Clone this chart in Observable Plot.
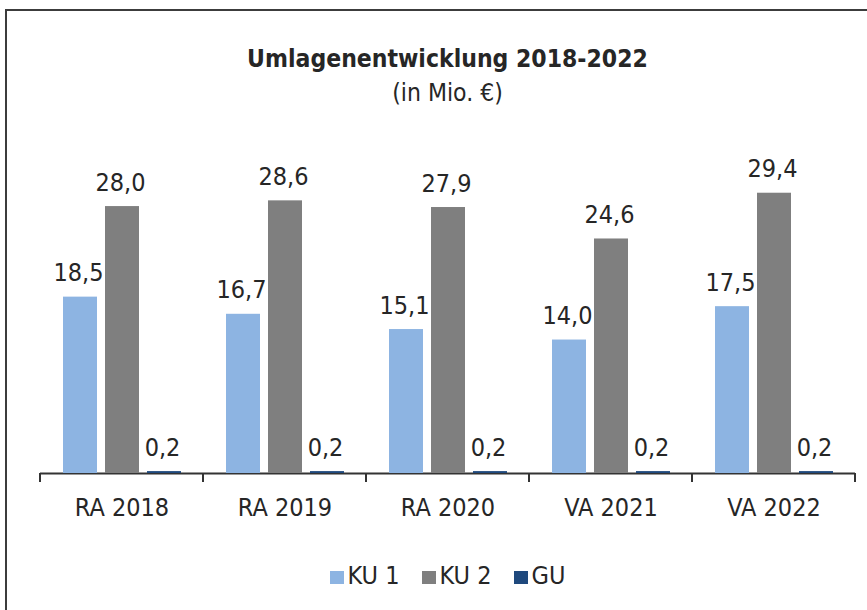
<!DOCTYPE html>
<html>
<head>
<meta charset="utf-8">
<script src="https://cdn.jsdelivr.net/npm/d3@7"></script>
<script src="https://cdn.jsdelivr.net/npm/@observablehq/plot@0.6"></script>
<style>
  html, body { margin: 0; padding: 0; background: #fff; overflow: hidden; }
  #wrap { position: relative; width: 867px; height: 610px; overflow: hidden;
          font-family: "DejaVu Sans Condensed", "DejaVu Sans", sans-serif; color: #262626; }
  #frame { position: absolute; left: 5px; top: 9px; width: 900px; height: 700px;
           border: 2px solid #3c3c3c; box-sizing: border-box; }
  .ttl { position: absolute; left: 0; width: 895px; text-align: center;
         font-size: 24.5px; line-height: 30px; white-space: nowrap; }
  #title { top: 44px; font-weight: bold; }
  #subtitle { top: 78px; }
  #chart { position: absolute; left: 0; top: 120px; }
  #legend { position: absolute; left: 0; width: 895px; top: 561px; text-align: center;
            font-size: 25px; line-height: 30px; white-space: nowrap; }
  .item { display: inline-block; margin: 0 11px; }
  .sw { display: inline-block; width: 14px; height: 13px; margin-right: 4px; vertical-align: baseline; }
</style>
</head>
<body>
<div id="wrap">
  <div id="frame"></div>
  <div id="title" class="ttl">Umlagenentwicklung 2018-2022</div>
  <div id="subtitle" class="ttl">(in Mio. €)</div>
  <div id="chart"></div>
  <div id="legend"></div>
</div>
<script>
const categories = ["RA 2018", "RA 2019", "RA 2020", "VA 2021", "VA 2022"];
const series = ["KU 1", "KU 2", "GU"];
const ku1 = [18.5, 16.7, 15.1, 14.0, 17.5];
const ku2 = [28.0, 28.6, 27.9, 24.6, 29.4];
const gu = [0.2, 0.2, 0.2, 0.2, 0.2];
const colors = ["#8DB4E2", "#7F7F7F", "#1F497D"];

const seriesValues = [ku1, ku2, gu];
const data = [];
categories.forEach((c, i) => {
  series.forEach((s, j) => data.push({cat: c, series: s, value: seriesValues[j][i]}));
});
const fmt = v => v.toFixed(1).replace(".", ",");
const FONT = '"DejaVu Sans Condensed", "DejaVu Sans", sans-serif';

const plot = Plot.plot({
  width: 867,
  height: 420,
  marginTop: 67,
  marginBottom: 67,
  marginLeft: 38,
  marginRight: 11,
  style: {fontFamily: FONT, fontSize: "25px", color: "#262626", background: "transparent"},
  fx: {domain: categories, padding: 0, label: null},
  x: {domain: series, paddingInner: 0.2, paddingOuter: 0.525, axis: null},
  y: {domain: [0, 30], axis: null},
  color: {domain: series, range: colors},
  marks: [
    Plot.ruleY([0], {stroke: "#333333", strokeWidth: 2}),
    Plot.barY(data, {fx: "cat", x: "series", y: "value", fill: "series"}),
    Plot.text(data, {fx: "cat", x: "series", y: "value", text: d => fmt(d.value),
                     lineAnchor: "bottom", dy: -16, dx: -2, fontSize: 25, fill: "#262626"}),
    Plot.axisFx({anchor: "bottom", tickSize: 0, tickPadding: 25, fontSize: 25, label: null, fill: "#262626"})
  ]
});

// boundary ticks between groups, placed with the plot's own fx and y scales
const fxs = plot.scale("fx");
const ys = plot.scale("y");
const y0 = ys.apply(0);
const edges = categories.map(c => fxs.apply(c));
edges.push(fxs.apply(categories[categories.length - 1]) + fxs.bandwidth);
d3.select(plot).append("g")
  .selectAll("line").data(edges).join("line")
  .attr("x1", d => d).attr("x2", d => d)
  .attr("y1", y0).attr("y2", y0 + 9)
  .attr("stroke", "#333333").attr("stroke-width", 2);

document.getElementById("chart").appendChild(plot);

const legend = d3.select("#legend");
series.forEach((s, i) => {
  const it = legend.append("span").attr("class", "item");
  it.append("span").attr("class", "sw").style("background", colors[i]);
  it.append("span").text(s);
});
</script>
</body>
</html>
